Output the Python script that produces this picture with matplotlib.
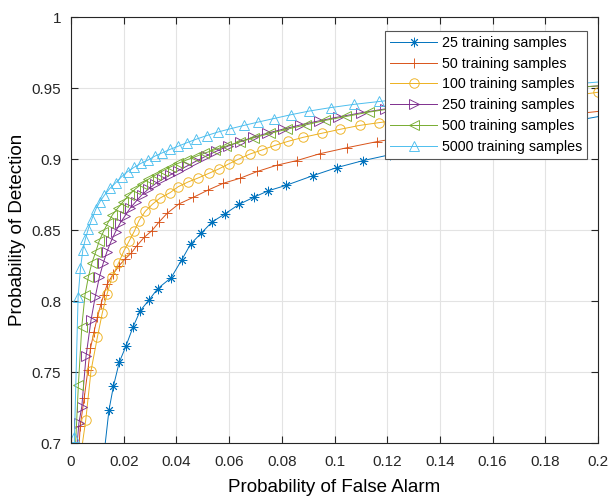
import matplotlib
matplotlib.use("Agg")
import matplotlib.pyplot as plt
from matplotlib.ticker import FixedLocator

plt.rcParams['font.family'] = ['Liberation Sans', 'DejaVu Sans']

labels = ["25 training samples", "50 training samples", "100 training samples",
          "250 training samples", "500 training samples", "5000 training samples"]

pfa_25 = [0.0118, 0.0144, 0.0161, 0.0183, 0.0208, 0.0236, 0.0263, 0.0297, 0.0329, 0.0380,
          0.0420, 0.0454, 0.0494, 0.0535, 0.0584, 0.0638, 0.0693, 0.0747, 0.0817, 0.0917,
          0.1008, 0.1107, 0.121, 0.133, 0.146, 0.160, 0.175, 0.190, 0.205]
pd_25 = [0.680, 0.723, 0.740, 0.7568, 0.768, 0.782, 0.7932, 0.8009, 0.8087, 0.8164,
         0.8289, 0.8401, 0.8477, 0.8556, 0.8613, 0.8681, 0.8730, 0.8775, 0.8815, 0.8882,
         0.8939, 0.8988, 0.9030, 0.9075, 0.9120, 0.9165, 0.9215, 0.9265, 0.9315]

pfa_50 = [0.0025, 0.0035, 0.0050, 0.0064, 0.0074, 0.0087, 0.0100, 0.0114, 0.0124, 0.0138,
          0.0160, 0.0183, 0.0205, 0.0228, 0.0249, 0.0278, 0.0307, 0.0335, 0.0365, 0.0409,
          0.0464, 0.0521, 0.0578, 0.0641, 0.0707, 0.0781, 0.0857, 0.0944, 0.1046, 0.1160,
          0.128, 0.141, 0.155, 0.170, 0.185, 0.205]
pd_50 = [0.680, 0.712, 0.7315, 0.7514, 0.7667, 0.778, 0.7885, 0.7979, 0.8042, 0.8120,
         0.8190, 0.8250, 0.8295, 0.8336, 0.8387, 0.8449, 0.8495, 0.8558, 0.8618, 0.8683,
         0.8730, 0.8782, 0.8829, 0.8864, 0.8912, 0.8956, 0.8989, 0.9037, 0.9079, 0.9122,
         0.9160, 0.9200, 0.9240, 0.9275, 0.9305, 0.9345]

pfa_100 = [0.0036, 0.0056, 0.0076, 0.0100, 0.0119, 0.0137, 0.0156, 0.0180, 0.0200, 0.0220,
           0.0240, 0.0258, 0.0282, 0.0310, 0.0338, 0.0376, 0.0407, 0.0444, 0.0482, 0.0523,
           0.0561, 0.0598, 0.0635, 0.0679, 0.0724, 0.0774, 0.0825, 0.0882, 0.0951, 0.1021,
           0.1097, 0.1169, 0.126, 0.136, 0.147, 0.159, 0.172, 0.186, 0.200]
pd_100 = [0.690, 0.7162, 0.7509, 0.7744, 0.7918, 0.8051, 0.8171, 0.8265, 0.8350, 0.8420,
          0.8490, 0.8566, 0.8632, 0.8683, 0.8725, 0.8763, 0.8805, 0.8838, 0.8866, 0.8899,
          0.8930, 0.8965, 0.8998, 0.9035, 0.9063, 0.9096, 0.9125, 0.9153, 0.9181, 0.9209,
          0.9237, 0.9256, 0.9280, 0.9310, 0.9340, 0.9370, 0.9400, 0.9435, 0.9470]

pfa_250 = [0.0019, 0.0030, 0.0041, 0.0057, 0.0076, 0.0092, 0.0108, 0.0122, 0.0136, 0.0152,
           0.0169, 0.0186, 0.0205, 0.0224, 0.0246, 0.0268, 0.0293, 0.0319, 0.0347, 0.0376,
           0.0407, 0.0440, 0.0475, 0.0512, 0.0552, 0.0595, 0.0640, 0.0690, 0.0745, 0.0805,
           0.0870, 0.0940, 0.1015, 0.1100, 0.119, 0.129, 0.140, 0.152, 0.165, 0.179, 0.194, 0.21]
pd_250 = [0.690, 0.714, 0.7256, 0.761, 0.7866, 0.803, 0.817, 0.8265, 0.8345, 0.8420,
          0.8488, 0.8547, 0.8600, 0.8653, 0.8700, 0.8746, 0.8787, 0.8824, 0.8857, 0.8887,
          0.8918, 0.8950, 0.8985, 0.9020, 0.9055, 0.9090, 0.9122, 0.9152, 0.9182, 0.9210,
          0.9240, 0.9268, 0.9296, 0.9325, 0.9352, 0.9380, 0.9410, 0.9438, 0.9465, 0.9490, 0.9508, 0.9525]

pfa_500 = [0.0015, 0.0028, 0.0041, 0.0053, 0.0066, 0.0079, 0.0094, 0.0107, 0.0123, 0.0139,
           0.0157, 0.0177, 0.0198, 0.0220, 0.0243, 0.0268, 0.0293, 0.0321, 0.0350, 0.0380,
           0.0407, 0.0437, 0.0470, 0.0505, 0.0545, 0.0590, 0.0640, 0.0695, 0.0755, 0.0820,
           0.0890, 0.0965, 0.1045, 0.1130, 0.1225, 0.133, 0.145, 0.158, 0.172, 0.187, 0.203]
pd_500 = [0.690, 0.7408, 0.782, 0.804, 0.817, 0.8266, 0.8347, 0.8423, 0.8488, 0.8547,
          0.8606, 0.8653, 0.8700, 0.8746, 0.8787, 0.8824, 0.8857, 0.8887, 0.8918, 0.8946,
          0.8970, 0.8992, 0.9015, 0.9040, 0.9065, 0.9092, 0.9120, 0.9150, 0.9180, 0.9210,
          0.9240, 0.9272, 0.9300, 0.9330, 0.9358, 0.9385, 0.9415, 0.9445, 0.9470, 0.9495, 0.9520]

pfa_5000 = [0.0012, 0.0013, 0.0027, 0.0036, 0.0045, 0.0055, 0.0066, 0.0080, 0.0094, 0.0110,
            0.0127, 0.0148, 0.0170, 0.0192, 0.0215, 0.0240, 0.0266, 0.0293, 0.0319, 0.0347,
            0.0376, 0.0407, 0.0440, 0.0476, 0.0515, 0.0558, 0.0605, 0.0655, 0.0710, 0.0770,
            0.0835, 0.0905, 0.0985, 0.1075, 0.1170, 0.128, 0.141, 0.155, 0.170, 0.186, 0.203]
pd_5000 = [0.680, 0.704, 0.803, 0.823, 0.836, 0.844, 0.851, 0.858, 0.8646, 0.870,
           0.8746, 0.8794, 0.8833, 0.8875, 0.8911, 0.8942, 0.8970, 0.8993, 0.9021, 0.9044,
           0.9068, 0.9090, 0.9115, 0.9140, 0.9165, 0.9190, 0.9213, 0.9236, 0.9260, 0.9285,
           0.9312, 0.9338, 0.9362, 0.9385, 0.9405, 0.9428, 0.9455, 0.9478, 0.9500, 0.9522, 0.9546]

xticks = [0, 0.02, 0.04, 0.06, 0.08, 0.1, 0.12, 0.14, 0.16, 0.18, 0.2]
xticklabels = ["0", "0.02", "0.04", "0.06", "0.08", "0.1", "0.12", "0.14", "0.16", "0.18", "0.2"]
yticks = [0.7, 0.75, 0.8, 0.85, 0.9, 0.95, 1.0]
yticklabels = ["0.7", "0.75", "0.8", "0.85", "0.9", "0.95", "1"]

series = [(pfa_25, pd_25), (pfa_50, pd_50), (pfa_100, pd_100),
          (pfa_250, pd_250), (pfa_500, pd_500), (pfa_5000, pd_5000)]
colors = ["#0072BD", "#D95319", "#EDB120", "#7E2F8E", "#77AC30", "#4DBEEE"]
markers = [(8, 2, 0), "+", "o", ">", "<", "^"]

fig = plt.figure(figsize=(6.11, 4.99), dpi=100)
ax = fig.add_axes([71/611, 1-443/499, 527/611, 426/499])

for (x, y), c, m, lab in zip(series, colors, markers, labels):
    ax.plot(x, y, color=c, marker=m, markersize=6.8, markerfacecolor='none',
            markeredgecolor=c, markeredgewidth=0.65, linewidth=0.7, label=lab)

ax.set_xlim(0, 0.2)
ax.set_ylim(0.7, 1.0)
ax.xaxis.set_major_locator(FixedLocator(xticks))
ax.set_xticklabels(xticklabels)
ax.yaxis.set_major_locator(FixedLocator(yticks))
ax.set_yticklabels(yticklabels)
ax.grid(True, color='#e3e3e3', linewidth=0.8)
ax.set_axisbelow(True)
for s in ax.spines.values():
    s.set_color('#262626')
    s.set_linewidth(0.8)
ax.tick_params(axis='both', direction='in', top=True, right=True, length=5, width=0.8,
               colors='#262626', labelsize=11, labelcolor='#262626')
ax.tick_params(axis='x', pad=9)
ax.tick_params(axis='y', pad=7)

ax.set_xlabel("Probability of False Alarm", fontsize=13.5, labelpad=7)
ax.set_ylabel("Probability of Detection", fontsize=13.5, labelpad=4)

leg = ax.legend(loc='upper right', bbox_to_anchor=((587-71)/527, (443-31)/426),
                borderaxespad=0, fontsize=10.3, fancybox=False, framealpha=1,
                edgecolor='#555555', handlelength=3.3, handletextpad=0.3,
                labelspacing=0.47, borderpad=0.35)
leg.get_frame().set_linewidth(0.8)

fig.savefig("out.png", dpi=100)
